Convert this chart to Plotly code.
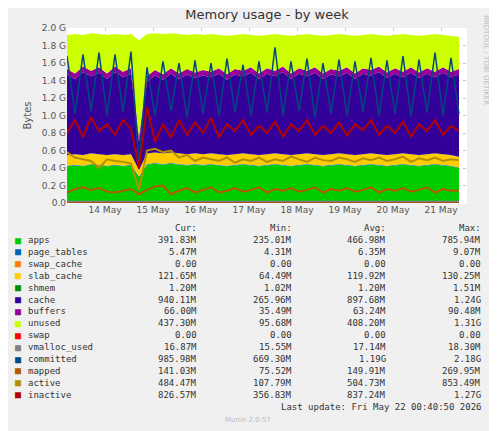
import plotly.graph_objects as go
import pandas as pd

times = pd.date_range("2026-05-13 05:00", periods=50, freq="4h")

apps = [0.42,0.43,0.42,0.44,0.43,0.42,0.43,0.42,0.43,0.30,0.44,0.45,0.44,0.45,0.44,0.43,0.44,0.43,0.44,0.43,0.42,0.43,0.44,0.43,0.42,0.43,0.44,0.43,0.42,0.43,0.44,0.43,0.42,0.43,0.44,0.43,0.42,0.43,0.44,0.43,0.42,0.43,0.44,0.43,0.42,0.43,0.44,0.43,0.42,0.40]
page_tables = [0.006]*50
swap_cache = [0.0]*50
slab_cache = [0.12,0.12,0.12,0.12,0.12,0.12,0.12,0.12,0.12,0.07,0.12,0.12,0.12,0.12,0.12,0.12,0.12,0.12,0.12,0.12,0.12,0.12,0.12,0.12,0.12,0.12,0.12,0.12,0.12,0.12,0.12,0.12,0.12,0.12,0.12,0.12,0.12,0.12,0.12,0.12,0.12,0.12,0.12,0.12,0.12,0.12,0.12,0.12,0.12,0.12]
shmem = [0.0012]*50
cache = [0.92,0.86,0.95,0.88,0.93,0.87,0.94,0.89,0.92,0.32,0.82,0.88,0.84,0.90,0.85,0.91,0.86,0.90,0.87,0.92,0.86,0.91,0.88,0.93,0.87,0.92,0.88,0.94,0.87,0.92,0.88,0.93,0.87,0.91,0.88,0.93,0.87,0.92,0.89,0.94,0.88,0.92,0.87,0.93,0.88,0.92,0.87,0.93,0.89,0.94]
buffers = [0.063]*50
unused = [0.39,0.45,0.36,0.43,0.38,0.44,0.37,0.42,0.39,1.10,0.48,0.42,0.46,0.40,0.45,0.39,0.44,0.40,0.43,0.38,0.44,0.39,0.42,0.37,0.43,0.38,0.42,0.36,0.43,0.38,0.42,0.37,0.43,0.39,0.42,0.37,0.43,0.38,0.41,0.36,0.42,0.38,0.43,0.37,0.42,0.38,0.43,0.37,0.41,0.37]
swap = [0.0]*50
vmalloc_used = [0.017]*50
committed = [1.68,1.02,1.70,1.05,1.72,1.00,1.70,1.04,1.73,0.45,1.55,1.00,1.62,1.05,1.60,0.98,1.63,1.02,1.60,1.00,1.65,1.04,1.58,1.00,1.62,1.03,1.78,1.00,1.62,1.05,1.65,0.98,1.60,1.02,1.64,1.00,1.62,1.04,1.66,1.00,1.63,1.02,1.68,0.99,1.64,1.03,1.72,1.00,1.66,1.02]
mapped = [0.12,0.16,0.18,0.15,0.17,0.13,0.12,0.14,0.16,0.10,0.15,0.19,0.20,0.10,0.14,0.17,0.12,0.15,0.18,0.12,0.14,0.17,0.13,0.15,0.18,0.12,0.16,0.14,0.17,0.13,0.15,0.18,0.12,0.16,0.14,0.17,0.13,0.15,0.18,0.12,0.16,0.14,0.17,0.13,0.15,0.18,0.12,0.16,0.14,0.14]
active = [0.58,0.52,0.50,0.48,0.40,0.50,0.48,0.47,0.45,0.15,0.60,0.62,0.58,0.60,0.52,0.55,0.48,0.52,0.50,0.48,0.52,0.46,0.50,0.48,0.52,0.47,0.50,0.48,0.53,0.50,0.47,0.52,0.49,0.48,0.52,0.50,0.47,0.51,0.49,0.52,0.48,0.50,0.53,0.47,0.51,0.49,0.52,0.48,0.50,0.49]
inactive = [0.80,0.95,0.75,0.98,0.82,0.90,0.78,0.95,0.85,0.40,1.10,0.70,0.90,0.75,0.95,0.78,0.92,0.80,0.97,0.75,0.90,0.82,0.95,0.78,0.88,0.80,0.93,0.76,0.90,0.82,0.95,0.78,0.88,0.80,0.92,0.77,0.90,0.83,0.95,0.78,0.88,0.80,0.93,0.76,0.90,0.82,0.95,0.78,0.88,0.82]

names = ["apps","page_tables","swap_cache","slab_cache","shmem","cache","buffers","unused",
         "swap","vmalloc_used","committed","mapped","active","inactive"]
colors = ["#00CC00","#0066B3","#FF8000","#FFCC00","#008F00","#330099","#990099","#CCFF00",
          "#FF0000","#808080","#00487D","#B35A00","#B38F00","#B30000"]
cur = ["391.83M","5.47M","0.00","121.65M","1.20M","940.11M","66.00M","437.30M","0.00","16.87M","985.98M","141.03M","484.47M","826.57M"]
mins = ["235.01M","4.31M","0.00","64.49M","1.02M","265.96M","35.49M","95.68M","0.00","15.55M","669.30M","75.52M","107.79M","356.83M"]
avgs = ["466.98M","6.35M","0.00","119.92M","1.20M","897.68M","63.24M","408.20M","0.00","17.14M","1.19G","149.91M","504.73M","837.24M"]
maxs = ["785.94M","9.07M","0.00","130.25M","1.51M","1.24G","90.48M","1.31G","0.00","18.30M","2.18G","269.95M","853.49M","1.27G"]
yticks = [0,0.2,0.4,0.6,0.8,1.0,1.2,1.4,1.6,1.8,2.0]
ytext = ["0.0","0.2 G","0.4 G","0.6 G","0.8 G","1.0 G","1.2 G","1.4 G","1.6 G","1.8 G","2.0 G"]
xticks = ["2026-05-14","2026-05-15","2026-05-16","2026-05-17","2026-05-18","2026-05-19","2026-05-20","2026-05-21"]
xtext = ["14 May","15 May","16 May","17 May","18 May","19 May","20 May","21 May"]

series = [apps,page_tables,swap_cache,slab_cache,shmem,cache,buffers,unused,
          swap,vmalloc_used,committed,mapped,active,inactive]

fig = go.Figure()
for i in range(8):
    fig.add_trace(go.Scatter(x=times, y=series[i], stackgroup="s", mode="lines",
                             line=dict(width=0, color=colors[i]), fillcolor=colors[i]))
for i in range(8, 14):
    fig.add_trace(go.Scatter(x=times, y=series[i], mode="lines",
                             line=dict(width=2 if i >= 11 else 1.5, color=colors[i])))

OFF = 8
FW, FH = 497 - OFF, 431 - OFF
L, T, R, B = 67 - OFF, 28 - OFF, 30, 431 - 203
font = "DejaVu Sans Mono"
fig.update_layout(
    width=FW, height=FH, showlegend=False,
    paper_bgcolor="#F0F0F0", plot_bgcolor="#FFFFFF",
    margin=dict(l=L, r=R, t=T, b=B),
    title=dict(text="Memory usage - by week", x=0.5, xref="paper", y=1 - (14 - OFF) / FH, yanchor="middle",
               font=dict(family="DejaVu Sans", size=13, color="#333")),
    xaxis=dict(range=["2026-05-13 05:00", "2026-05-21 13:00"], tickvals=xticks, ticktext=xtext,
               showgrid=True, gridcolor="rgba(230,120,120,0.5)", griddash="dot", gridwidth=1,
               tickfont=dict(family="DejaVu Sans", size=9, color="#555"), ticks="", zeroline=False),
    yaxis=dict(range=[0, 2.0], tickvals=yticks, ticktext=ytext,
               showgrid=True, gridcolor="rgba(230,120,120,0.5)", griddash="dot",
               tickfont=dict(family="DejaVu Sans", size=9, color="#555"), ticks="",
               title=dict(text="Bytes", font=dict(family="DejaVu Sans", size=10, color="#555"), standoff=8)),
)

W, H = FW - L - R, FH - T - B
def ax(px):
    return (px - OFF - L) / W
def ay(py):
    return 1 - (py - OFF - T) / H

anns = []
def add(px, py, text, xanchor="right", color="#333", size=9, fam=font, angle=0):
    anns.append(dict(xref="paper", yref="paper", x=ax(px), y=ay(py), text=text, textangle=angle,
                     xanchor=xanchor, yanchor="middle", showarrow=False,
                     font=dict(family=fam, size=size, color=color)))

for x, t in zip([199, 294, 388, 483], ["Cur:", "Min:", "Avg:", "Max:"]):
    add(x, 228, t)
for i in range(14):
    yy = 240 + i * 11.9
    add(26, yy, names[i], xanchor="left")
    add(18, yy, "■", xanchor="center", color=colors[i], size=10)
    for x, v in zip([199, 294, 388, 483], [cur[i], mins[i], avgs[i], maxs[i]]):
        add(x, yy, v)
add(483, 407, "Last update: Fri May 22 00:40:50 2026")
add(248, 420, "Munin 2.0.57", xanchor="center", color="#BBB", size=7, fam="DejaVu Sans")
add(486, 60, "RRDTOOL / TOBI OETIKER", xanchor="center", color="#BBB", size=7, fam="DejaVu Sans", angle=90)
fig.update_layout(annotations=anns)
fig.write_html("out.html")
